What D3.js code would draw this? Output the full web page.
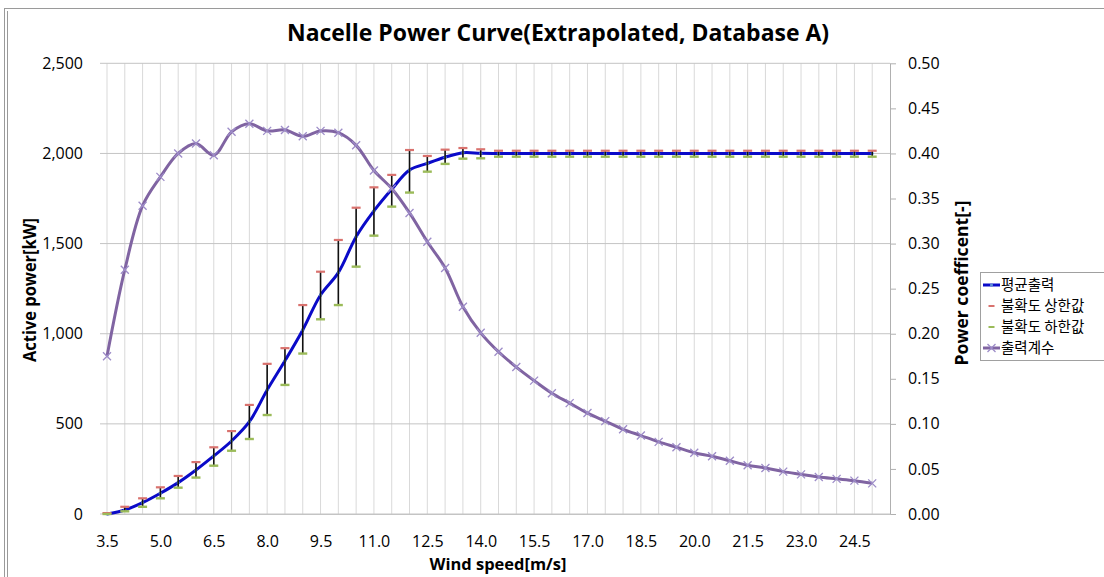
<!DOCTYPE html>
<html><head><meta charset="utf-8">
<script src="https://cdn.jsdelivr.net/npm/d3@7"></script>
<style>body{margin:0;background:#fff;overflow:hidden} svg{display:block}</style>
</head><body><svg id="c" width="1104" height="577"></svg>
<script>
const windSpeed = [3.5,4.0,4.5,5.0,5.5,6.0,6.5,7.0,7.5,8.0,8.5,9.0,9.5,10.0,10.5,11.0,11.5,12.0,12.5,13.0,13.5,14.0,
  14.5,15.0,15.5,16.0,16.5,17.0,17.5,18.0,18.5,19.0,19.5,20.0,20.5,21.0,21.5,22.0,22.5,23.0,23.5,24.0,24.5,25.0];
const meanPower = [0,22,63,115,174,244,322,405,512,688,850,1021,1215,1339,1538,1681,1801,1908,1945,1979,2004,2001,
  2000,2000,2000,2000,2000,2000,2000,2000,2000,2000,2000,2000,2000,2000,2000,2000,2000,2000,2000,2000,2000,2000];
const upperPower = [5,40,87,148,211,288,370,460,605,833,920,1159,1344,1520,1699,1812,1881,2019,1986,2021,2030,2023,
  2015,2015,2015,2015,2015,2015,2015,2015,2015,2015,2015,2015,2015,2015,2015,2015,2015,2015,2015,2015,2015,2015];
const lowerPower = [0,15,40,87,146,202,268,351,416,549,716,890,1080,1159,1372,1544,1705,1783,1899,1942,1971,1973,
  1982,1982,1982,1982,1982,1982,1982,1982,1982,1982,1982,1982,1982,1982,1982,1982,1982,1982,1982,1982,1982,1982];
const powerCoef = [0.175,0.271,0.342,0.374,0.400,0.411,0.398,0.424,0.433,0.425,0.426,0.419,0.425,0.423,0.409,0.381,
  0.361,0.334,0.302,0.273,0.230,0.201,0.180,0.163,0.148,0.134,0.123,0.112,0.103,0.094,0.087,0.080,0.074,0.068,
  0.064,0.059,0.054,0.051,0.047,0.044,0.041,0.039,0.037,0.034];
const xTickLabels = ["3.5","5.0","6.5","8.0","9.5","11.0","12.5","14.0","15.5","17.0","18.5","20.0","21.5","23.0","24.5"];
const powerTicks = [0,500,1000,1500,2000,2500];
const coefTicks = [0,0.05,0.10,0.15,0.20,0.25,0.30,0.35,0.40,0.45,0.50];
const seriesNames = ["평균출력","불확도 상한값","불확도 하한값","출력계수"];

const svg = d3.select("#c");
const L = 107, R = 890, T = 63.3, B = 514;
const x = d3.scaleLinear().domain([3.5,25.5]).range([L,R]);
const yP = d3.scaleLinear().domain([0,2500]).range([B,T]);
const yC = d3.scaleLinear().domain([0,0.5]).range([B,T]);
const FONT = "'Open Sans', 'Liberation Sans', sans-serif";

// chart border
svg.append("rect").attr("x",4.5).attr("y",8.5).attr("width",1200).attr("height",700)
  .attr("fill","none").attr("stroke","#9a9a9a");
svg.append("line").attr("x1",7.5).attr("x2",7.5).attr("y1",11).attr("y2",577).attr("stroke","#9a9a9a");

// vertical gridlines
svg.append("g").selectAll("line").data(windSpeed).join("line")
  .attr("x1",d=>x(d)).attr("x2",d=>x(d)).attr("y1",T).attr("y2",B)
  .attr("stroke","#d9d9d9").attr("stroke-width",1);
// horizontal gridlines
svg.append("g").selectAll("line").data(powerTicks).join("line")
  .attr("x1",L-7).attr("x2",R).attr("y1",d=>yP(d)).attr("y2",d=>yP(d))
  .attr("stroke","#c4c4c4").attr("stroke-width",1);

// axes
const axL = svg.append("g").attr("transform",`translate(${L},0)`)
  .call(d3.axisLeft(yP).tickValues(powerTicks).tickFormat(d3.format(",")).tickSize(0).tickPadding(24));
const axR = svg.append("g").attr("transform",`translate(${R},0)`)
  .call(d3.axisRight(yC).tickValues(coefTicks).tickFormat(d3.format(".2f")).tickSizeInner(6).tickSizeOuter(0).tickPadding(12));
const axB = svg.append("g").attr("transform",`translate(0,${B})`)
  .call(d3.axisBottom(x).tickValues(xTickLabels.map(Number)).tickFormat((d,i)=>xTickLabels[i]).tickSize(0).tickPadding(22));
[axL,axR,axB].forEach(g=>{
  g.selectAll("text").attr("font-family",FONT).attr("font-size",16).attr("fill","#000");
  g.selectAll("line").attr("stroke","#b0b0b0");
  g.select(".domain").attr("stroke","#b0b0b0");
});
axL.select(".domain").remove();
axB.select(".domain").attr("stroke","#c4c4c4");

// series data
const pts = windSpeed.map((v,i)=>({v, p:meanPower[i], hi:upperPower[i], lo:lowerPower[i], c:powerCoef[i]}));

// mean power line
const lineP = d3.line().x(d=>x(d.v)).y(d=>yP(d.p)).curve(d3.curveCatmullRom.alpha(0.5));
svg.append("path").datum(pts).attr("d",lineP).attr("fill","none").attr("stroke","#0a0ac8").attr("stroke-width",3);
svg.append("g").selectAll("circle").data(pts).join("circle")
  .attr("cx",d=>x(d.v)).attr("cy",d=>yP(d.p)).attr("r",1.6).attr("fill","#5d8fd6");

// high-low lines
svg.append("g").selectAll("line").data(pts).join("line")
  .attr("x1",d=>x(d.v)).attr("x2",d=>x(d.v)).attr("y1",d=>yP(d.hi)).attr("y2",d=>yP(d.lo))
  .attr("stroke","#111").attr("stroke-width",1.6);
// upper / lower markers
svg.append("g").selectAll("line").data(pts).join("line")
  .attr("x1",d=>x(d.v)-4.5).attr("x2",d=>x(d.v)+4.5).attr("y1",d=>yP(d.hi)).attr("y2",d=>yP(d.hi))
  .attr("stroke","#d9726e").attr("stroke-width",2.2);
svg.append("g").selectAll("line").data(pts).join("line")
  .attr("x1",d=>x(d.v)-4.5).attr("x2",d=>x(d.v)+4.5).attr("y1",d=>yP(d.lo)).attr("y2",d=>yP(d.lo))
  .attr("stroke","#9bbb59").attr("stroke-width",2.4);

// power coefficient line
const lineC = d3.line().x(d=>x(d.v)).y(d=>yC(d.c)).curve(d3.curveCatmullRom.alpha(0.5));
svg.append("path").datum(pts).attr("d",lineC).attr("fill","none").attr("stroke","#8064a2").attr("stroke-width",3);
const xMark = "M-4,-4L4,4M-4,4L4,-4";
svg.append("g").selectAll("path").data(pts).join("path")
  .attr("transform",d=>`translate(${x(d.v)},${yC(d.c)})`).attr("d",xMark)
  .attr("fill","none").attr("stroke","#9d8cc8").attr("stroke-width",1.3);

// titles
svg.append("text").attr("x",558).attr("y",41).attr("text-anchor","middle")
  .attr("font-family",FONT).attr("font-weight","bold").attr("font-size",24)
  .attr("textLength",542).attr("lengthAdjust","spacingAndGlyphs")
  .text("Nacelle Power Curve(Extrapolated, Database A)");
svg.append("text").attr("transform","translate(36,290) rotate(-90)").attr("text-anchor","middle")
  .attr("font-family",FONT).attr("font-weight","bold").attr("font-size",17)
  .attr("textLength",144).attr("lengthAdjust","spacingAndGlyphs")
  .text("Active  power[kW]");
svg.append("text").attr("transform","translate(968,283) rotate(-90)").attr("text-anchor","middle")
  .attr("font-family",FONT).attr("font-weight","bold").attr("font-size",17)
  .attr("textLength",165).attr("lengthAdjust","spacingAndGlyphs")
  .text("Power coefficent[-]");
svg.append("text").attr("x",498).attr("y",570).attr("text-anchor","middle")
  .attr("font-family",FONT).attr("font-weight","bold").attr("font-size",16.5)
  .attr("textLength",137).attr("lengthAdjust","spacingAndGlyphs")
  .text("Wind speed[m/s]");

// legend
const lg = svg.append("g");
lg.append("rect").attr("x",980.5).attr("y",272.5).attr("width",140).attr("height",88)
  .attr("fill","#fff").attr("stroke","#a0a0a0");
const ly = [285,306,327,348];
const lf = "'Noto Sans CJK KR', sans-serif";
lg.append("line").attr("x1",983).attr("x2",1000).attr("y1",ly[0]).attr("y2",ly[0]).attr("stroke","#0a0ac8").attr("stroke-width",3);
lg.append("circle").attr("cx",991.5).attr("cy",ly[0]).attr("r",1.6).attr("fill","#5d8fd6");
lg.append("line").attr("x1",988.5).attr("x2",994.5).attr("y1",ly[1]).attr("y2",ly[1]).attr("stroke","#d9726e").attr("stroke-width",2);
lg.append("line").attr("x1",988.5).attr("x2",994.5).attr("y1",ly[2]).attr("y2",ly[2]).attr("stroke","#9bbb59").attr("stroke-width",2);
lg.append("line").attr("x1",983).attr("x2",1000).attr("y1",ly[3]).attr("y2",ly[3]).attr("stroke","#8064a2").attr("stroke-width",3);
lg.append("path").attr("transform",`translate(991.5,${ly[3]})`).attr("d",xMark).attr("fill","none").attr("stroke","#9d8cc8").attr("stroke-width",1.3);
lg.selectAll("text.l").data(seriesNames).join("text").attr("class","l")
  .attr("x",1001).attr("y",(d,i)=>ly[i]).attr("dy","0.36em")
  .attr("font-family",lf).attr("font-size",14.5).attr("fill","#000").text(d=>d);
</script>
</body></html>
